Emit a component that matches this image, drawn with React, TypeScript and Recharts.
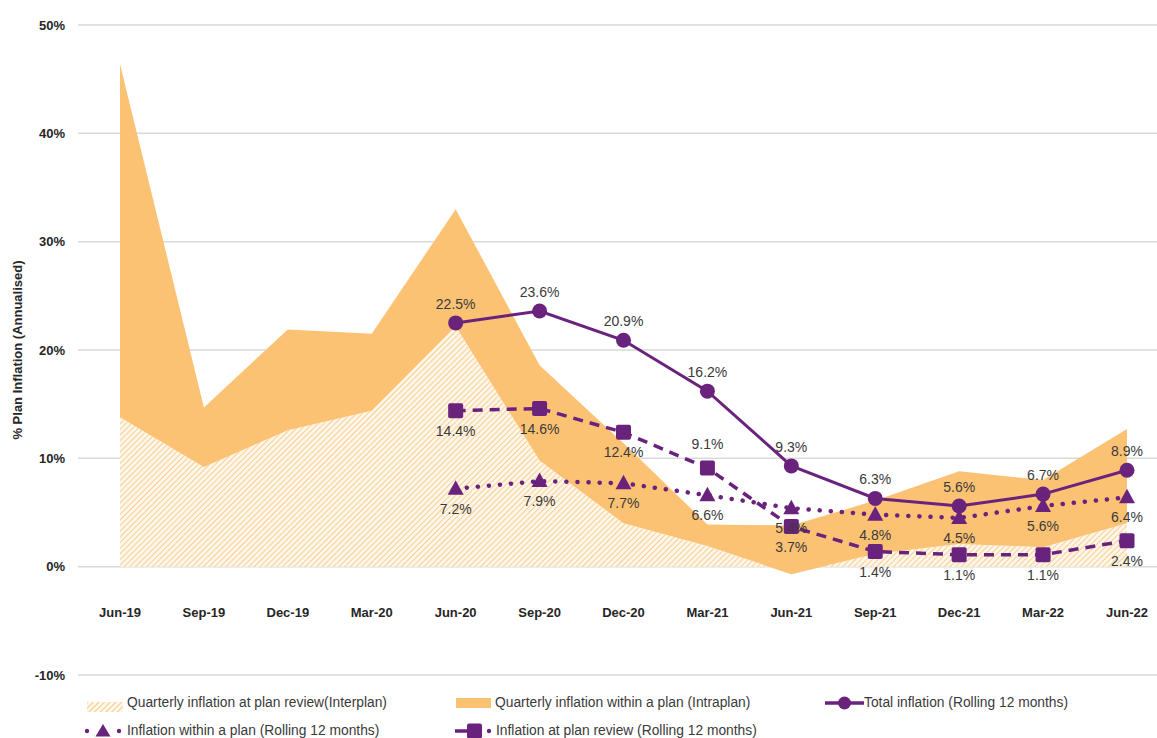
import React from 'react'
import {
  ComposedChart,
  Area,
  Line,
  XAxis,
  YAxis,
  CartesianGrid,
  LabelList,
} from 'recharts'

const categories = [
  'Jun-19', 'Sep-19', 'Dec-19', 'Mar-20', 'Jun-20', 'Sep-20', 'Dec-20',
  'Mar-21', 'Jun-21', 'Sep-21', 'Dec-21', 'Mar-22', 'Jun-22',
]

// quarterly values (annualised %)
const interplan = [13.8, 9.2, 12.6, 14.4, 22.2, 9.8, 4.0, 1.9, -0.7, 1.2, 2.1, 1.8, 4.0]
const intraplan = [32.6, 5.5, 9.3, 7.1, 10.8, 8.8, 7.4, 2.0, 4.5, 4.9, 6.7, 6.2, 8.7]

// rolling 12 month values
const totalRolling = [null, null, null, null, 22.5, 23.6, 20.9, 16.2, 9.3, 6.3, 5.6, 6.7, 8.9]
const withinRolling = [null, null, null, null, 7.2, 7.9, 7.7, 6.6, 5.4, 4.8, 4.5, 5.6, 6.4]
const reviewRolling = [null, null, null, null, 14.4, 14.6, 12.4, 9.1, 3.7, 1.4, 1.1, 1.1, 2.4]
const reviewLabelsAbove = ['Mar-21']

const yTicks = [-10, 0, 10, 20, 30, 40, 50]

const data = categories.map((month, i) => ({
  month,
  interplan: interplan[i],
  intraplan: intraplan[i],
  total: totalRolling[i],
  within: withinRolling[i],
  review: reviewRolling[i],
}))

const PURPLE = '#6a237d'
const ORANGE = '#fcc274'
const FONT = '"Liberation Sans", Arial, sans-serif'

function CircleDot({ cx, cy }: any) {
  if (cx == null || cy == null) return <g />
  return <circle cx={cx} cy={cy} r={7.5} fill={PURPLE} />
}

function TriangleDot({ cx, cy }: any) {
  if (cx == null || cy == null) return <g />
  return (
    <polygon
      points={`${cx},${cy - 8.5} ${cx - 8},${cy + 6} ${cx + 8},${cy + 6}`}
      fill={PURPLE}
    />
  )
}

function SquareDot({ cx, cy }: any) {
  if (cx == null || cy == null) return <g />
  return <rect x={cx - 7.5} y={cy - 7.5} width={15} height={15} rx={2} fill={PURPLE} />
}

const fmt = (v: number) => `${v.toFixed(1)}%`

function labelAt(dy: number) {
  return ({ x, y, value }: any) => {
    if (value == null) return null
    return (
      <text x={x} y={y + dy} textAnchor="middle" fontSize={14} fill="#3a3a3a" fontFamily={FONT}>
        {fmt(value)}
      </text>
    )
  }
}

function reviewLabel({ x, y, value, index }: any) {
  if (value == null) return null
  const above = reviewLabelsAbove.includes(categories[index])
  return (
    <text x={x} y={above ? y - 19 : y + 25} textAnchor="middle" fontSize={14} fill="#3a3a3a" fontFamily={FONT}>
      {fmt(value)}
    </text>
  )
}

function MonthTick({ x, y, payload }: any) {
  return (
    <text x={x} y={y - 58} textAnchor="middle" fontSize={13} fontWeight="bold" fill="#262626" fontFamily={FONT}>
      {payload.value}
    </text>
  )
}

function YTitle({ viewBox }: any) {
  const cy = viewBox.y + viewBox.height / 2
  return (
    <text
      x={22}
      y={cy}
      transform={`rotate(-90, 22, ${cy})`}
      textAnchor="middle"
      fontSize={13}
      fontWeight="bold"
      fill="#262626"
      fontFamily={FONT}
    >
      % Plan Inflation (Annualised)
    </text>
  )
}

function HatchSwatch() {
  return (
    <svg width={36} height={10}>
      <rect width={36} height={10} fill="url(#hatchLegend)" />
      <defs>
        <pattern id="hatchLegend" patternUnits="userSpaceOnUse" width={4} height={4} patternTransform="rotate(45)">
          <rect width={4} height={4} fill="#fff7ea" />
          <line x1={0} y1={0} x2={0} y2={4} stroke="#f6c98a" strokeWidth={2} />
        </pattern>
      </defs>
    </svg>
  )
}

const legendText: React.CSSProperties = {
  position: 'absolute',
  fontFamily: FONT,
  fontSize: 13.8,
  color: '#3a3a3a',
  lineHeight: '16px',
  whiteSpace: 'nowrap',
}

function ChartLegend() {
  return (
    <div style={{ position: 'absolute', left: 0, top: 0, width: 1157, height: 738, pointerEvents: 'none' }}>
      <div style={{ position: 'absolute', left: 87, top: 698 }}><HatchSwatch /></div>
      <div style={{ ...legendText, left: 127, top: 695 }}>Quarterly inflation at plan review(Interplan)</div>

      <svg style={{ position: 'absolute', left: 456, top: 698 }} width={35} height={10}>
        <rect width={35} height={10} fill={ORANGE} />
      </svg>
      <div style={{ ...legendText, left: 495, top: 695 }}>Quarterly inflation within a plan (Intraplan)</div>

      <svg style={{ position: 'absolute', left: 825, top: 693 }} width={39} height={20}>
        <line x1={0} y1={10} x2={39} y2={10} stroke={PURPLE} strokeWidth={3.5} />
        <circle cx={19.5} cy={10} r={6.5} fill={PURPLE} />
      </svg>
      <div style={{ ...legendText, left: 864, top: 695 }}>Total inflation (Rolling 12 months)</div>

      <svg style={{ position: 'absolute', left: 84, top: 721 }} width={39} height={20}>
        <circle cx={3} cy={10} r={2.2} fill={PURPLE} />
        <circle cx={35} cy={10} r={2.2} fill={PURPLE} />
        <polygon points="19,3 11.5,15.5 26.5,15.5" fill={PURPLE} />
      </svg>
      <div style={{ ...legendText, left: 127, top: 723 }}>Inflation within a plan (Rolling 12 months)</div>

      <svg style={{ position: 'absolute', left: 455, top: 721 }} width={39} height={20}>
        <line x1={0} y1={10} x2={18} y2={10} stroke={PURPLE} strokeWidth={3.5} />
        <circle cx={34} cy={10} r={2.2} fill={PURPLE} />
        <rect x={12} y={2.5} width={15} height={15} rx={2} fill={PURPLE} />
      </svg>
      <div style={{ ...legendText, left: 496, top: 723 }}>Inflation at plan review (Rolling 12 months)</div>
    </div>
  )
}

export default function App() {
  return (
    <div style={{ position: 'absolute', left: 0, top: 0, width: 1157, height: 738, background: '#fff' }}>
      <ComposedChart
        width={1157}
        height={738}
        data={data}
        margin={{ top: 25, right: 0, bottom: 33, left: 0 }}
      >
        <defs>
          <pattern id="hatch" patternUnits="userSpaceOnUse" width={4} height={4} patternTransform="rotate(45)">
            <rect width={4} height={4} fill="#fff6e8" />
            <line x1={0} y1={0} x2={0} y2={4} stroke="#f5c888" strokeWidth={1.7} />
          </pattern>
        </defs>
        <CartesianGrid vertical={false} stroke="#d9d9d9" strokeWidth={1.5} />
        <XAxis
          dataKey="month"
          axisLine={false}
          tickLine={false}
          tickSize={0}
          tickMargin={0}
          height={30}
          interval={0}
          padding={{ left: 42, right: 30 }}
          tick={<MonthTick />}
        />
        <YAxis
          domain={[-10, 50]}
          ticks={yTicks}
          width={78}
          axisLine={false}
          tickLine={false}
          tickMargin={7}
          tickFormatter={(v: number) => `${v}%`}
          tick={{ fill: '#262626', fontSize: 13, fontWeight: 'bold', fontFamily: FONT }}
          label={<YTitle />}
        />
        <Area
          type="linear"
          dataKey="interplan"
          stackId="q"
          fill="url(#hatch)"
          fillOpacity={1}
          stroke="none"
          isAnimationActive={false}
        />
        <Area
          type="linear"
          dataKey="intraplan"
          stackId="q"
          fill={ORANGE}
          fillOpacity={1}
          stroke="none"
          isAnimationActive={false}
        />
        <Line
          type="linear"
          dataKey="within"
          stroke={PURPLE}
          strokeWidth={4.5}
          strokeDasharray="0.1 11"
          strokeLinecap="round"
          dot={<TriangleDot />}
          activeDot={false}
          isAnimationActive={false}
        >
          <LabelList dataKey="within" content={labelAt(25)} />
        </Line>
        <Line
          type="linear"
          dataKey="review"
          stroke={PURPLE}
          strokeWidth={3.5}
          strokeDasharray="10 7"
          dot={<SquareDot />}
          activeDot={false}
          isAnimationActive={false}
        >
          <LabelList dataKey="review" content={reviewLabel} />
        </Line>
        <Line
          type="linear"
          dataKey="total"
          stroke={PURPLE}
          strokeWidth={3}
          dot={<CircleDot />}
          activeDot={false}
          isAnimationActive={false}
        >
          <LabelList dataKey="total" content={labelAt(-14)} />
        </Line>
      </ComposedChart>
      <ChartLegend />
    </div>
  )
}
